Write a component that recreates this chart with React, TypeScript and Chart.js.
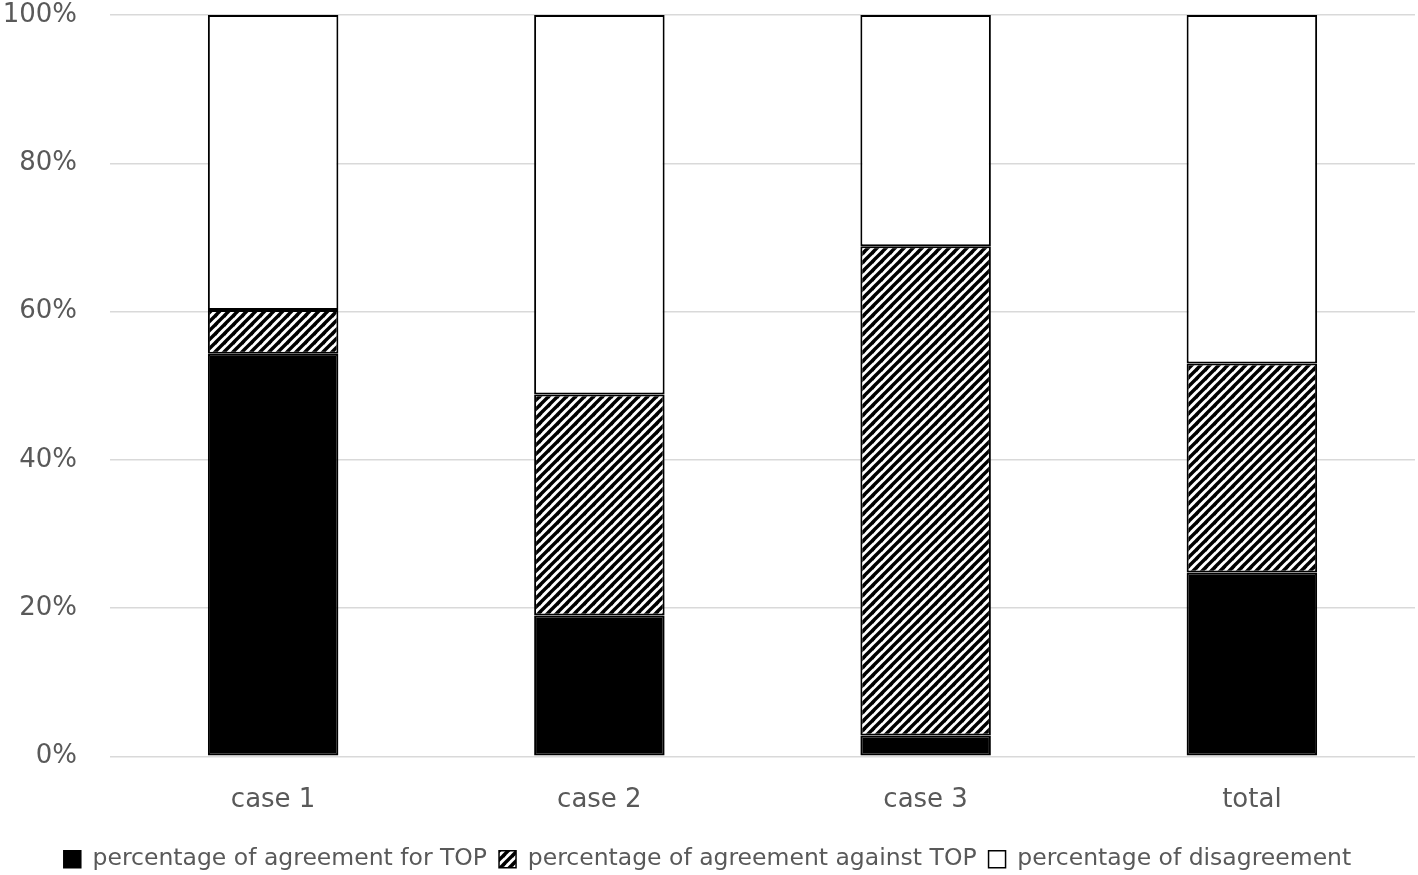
import React, { useEffect, useRef } from "react";
import { Chart, registerables } from "chart.js";

Chart.register(...registerables);

const categories = ["case 1", "case 2", "case 3", "total"];
const agreementFor = [54.3, 19.0, 2.8, 24.8];
const agreementAgainst = [5.9, 29.8, 66.0, 28.2];
const disagreement = [39.8, 51.2, 31.2, 47.0];
const seriesNames = [
  "percentage of agreement for TOP",
  "percentage of agreement against TOP",
  "percentage of disagreement",
];

function makeHatch(): CanvasPattern | string {
  const size = 9;
  const c = document.createElement("canvas");
  c.width = size;
  c.height = size;
  const g = c.getContext("2d");
  if (!g) return "#888";
  g.fillStyle = "#fff";
  g.fillRect(0, 0, size, size);
  g.strokeStyle = "#000";
  g.lineWidth = 3.4;
  g.lineCap = "square";
  const lines = [
    [0, size, size, 0],
    [-size, size, 0, 0],
    [size, size * 2, size * 2, size],
    [-1, 1, 1, -1],
    [size - 1, size + 1, size + 1, size - 1],
  ];
  for (const [x1, y1, x2, y2] of lines) {
    g.beginPath();
    g.moveTo(x1, y1);
    g.lineTo(x2, y2);
    g.stroke();
  }
  const p = g.createPattern(c, "repeat");
  return p || "#888";
}

export default function App() {
  const ref = useRef<HTMLCanvasElement | null>(null);
  useEffect(() => {
    if (!ref.current) return;
    const hatch = makeHatch();
    const font = "'DejaVu Sans', 'Noto Sans', sans-serif";
    const chart = new Chart(ref.current, {
      type: "bar",
      data: {
        labels: categories,
        datasets: [
          {
            label: seriesNames[0],
            data: agreementFor,
            backgroundColor: "#000000",
            borderColor: "#000000",
            borderWidth: 2,
            borderSkipped: false,
          },
          {
            label: seriesNames[1],
            data: agreementAgainst,
            backgroundColor: hatch as any,
            borderColor: "#000000",
            borderWidth: 2,
            borderSkipped: false,
          },
          {
            label: seriesNames[2],
            data: disagreement,
            backgroundColor: "#ffffff",
            borderColor: "#000000",
            borderWidth: 2,
            borderSkipped: false,
          },
        ],
      },
      options: {
        animation: false,
        responsive: false,
        maintainAspectRatio: false,
        layout: { padding: { top: 15, right: 3, left: 0, bottom: -6 } },
        datasets: { bar: { categoryPercentage: 1, barPercentage: 0.4 } },
        plugins: {
          tooltip: { enabled: false },
          legend: {
            position: "bottom",
            labels: {
              color: "#595959",
              font: { family: font, size: 23.5 },
              boxWidth: 17,
              boxHeight: 17,
              padding: 12,
              generateLabels: (ch: any) =>
                ch.data.datasets.map((ds: any, i: number) => ({
                  text: ds.label,
                  fillStyle: ds.backgroundColor,
                  strokeStyle: "#000",
                  lineWidth: 1.5,
                  hidden: false,
                  datasetIndex: i,
                  fontColor: "#595959",
                })),
            },
          },
        },
        scales: {
          x: {
            stacked: true,
            grid: { display: false },
            border: { display: false },
            ticks: {
              color: "#595959",
              font: { family: font, size: 26 },
              padding: 20,
            },
          },
          y: {
            stacked: true,
            min: 0,
            max: 100,
            afterFit: (s: any) => {
              s.width = 110;
              s.paddingTop = 0;
              s.paddingBottom = 0;
            },
            grid: { color: "#d9d9d9", lineWidth: 1.5, drawTicks: false },
            border: { display: false },
            ticks: {
              stepSize: 20,
              color: "#595959",
              font: { family: font, size: 26 },
              padding: 33,
              callback: (v: any) => v + "%",
            },
          },
        },
      },
    });
    return () => chart.destroy();
  }, []);
  return (
    <div style={{ position: "absolute", left: 0, top: 0, width: 1418, height: 875, background: "#fff" }}>
      <canvas ref={ref} width={1418} height={875} style={{ width: 1418, height: 875, display: "block" }} />
    </div>
  );
}
